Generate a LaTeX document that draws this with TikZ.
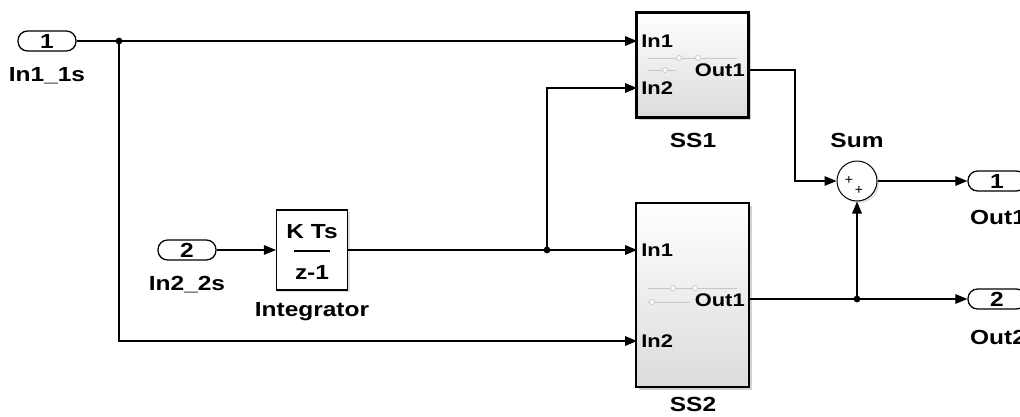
\documentclass[tikz,border=0pt]{standalone}
\usepackage{fontspec}
\setmainfont{Liberation Sans}
\newfontfamily\blkfont[FakeStretch=1.2]{Liberation Sans}
\usepackage{tikz}
\usetikzlibrary{arrows.meta}
\usetikzlibrary{shadows}
\usetikzlibrary{positioning}

\begin{document}
\begin{tikzpicture}[x=0.025cm, y=-0.025cm, >={Triangle[length=0.3cm, width=0.24cm]},
  wire/.style={line width=0.9pt},
  port/.style={draw, line width=0.9pt, fill=white, rounded corners=0.24cm,
    minimum width=1.45cm, minimum height=0.5cm, inner sep=0pt,
    font=\blkfont\bfseries\fontsize{14.5}{16}\selectfont},
  lbl/.style={inner sep=0pt, font=\blkfont\bfseries\fontsize{14.5}{16}\selectfont},
  plbl/.style={inner sep=0pt, font=\blkfont\bfseries\fontsize{13}{14}\selectfont},
  subsys/.style={draw, line width=2pt, top color=white, bottom color=black!14,
    drop shadow={shadow xshift=0.07cm, shadow yshift=-0.07cm, fill=black!35}},
  intblk/.style={draw, line width=0.8pt, fill=white, minimum width=1.775cm,
    minimum height=2cm, drop shadow={shadow xshift=0.05cm, shadow yshift=-0.05cm, fill=black!25}},
  sumblk/.style={draw, circle, line width=0.7pt, fill=white, minimum size=1cm,
    drop shadow={shadow xshift=0.05cm, shadow yshift=-0.05cm, fill=black!25}},
  dot/.style={circle, fill, inner sep=0pt, minimum size=0.17cm},
  icon/.style={black!22, line width=0.5pt}
]
  \useasboundingbox (0,0) rectangle (1020,416);

  % ===== Inports =====
  \node[port] (in1) at (47,41) {1};
  \node[lbl] (in1lbl) at (47,76) {In1\_1s};
  \node[port] (in2) at (187,250) {2};
  \node[lbl] (in2lbl) at (187,285) {In2\_2s};

  % ===== Integrator =====
  \node[intblk] (integ) at (312,250) {};
  \node[lbl] (num) at (312,232) {K Ts};
  \node[lbl] (den) at (312,272) {z-1};
  \draw[line width=0.8pt] (294,251) -- (330,251);
  \node[lbl] (integlbl) at (312,312) {Integrator};

  % ===== Subsystems =====
  \node[subsys, minimum width=2.8cm, minimum height=2.625cm] (ss1) at (692.5,65) {};
  \node[lbl] (ss1lbl) at (693,140) {SS1};
  \node[subsys, minimum width=2.825cm, minimum height=4.6cm] (ss2) at (692.5,295) {};
  \node[lbl] (ss2lbl) at (693,404) {SS2};

  % faint icons
  \draw[icon] (648,58) -- (737,58);
  \draw[icon, fill=white] (679,58) circle (2.5) (698,58) circle (2.5);
  \draw[icon] (648,70) -- (676,70);
  \draw[icon, fill=white] (665,70) circle (2.5);
  \draw[icon] (648,288) -- (737,288);
  \draw[icon, fill=white] (673,288) circle (2.5) (695,288) circle (2.5);
  \draw[icon] (648,302) -- (690,302);
  \draw[icon, fill=white] (652,302) circle (2.5);

  \node[plbl, anchor=west] (ss1i1) at (641,41) {In1};
  \node[plbl, anchor=west] (ss1i2) at (641,88) {In2};
  \node[plbl, anchor=east] (ss1o1) at (745,70) {Out1};
  \node[plbl, anchor=west] (ss2i1) at (641,250) {In1};
  \node[plbl, anchor=west] (ss2i2) at (641,341) {In2};
  \node[plbl, anchor=east] (ss2o1) at (745,300) {Out1};

  \coordinate (ss1in1) at (637,41);
  \coordinate (ss1in2) at (637,88);
  \coordinate (ss1out) at (748,70);
  \coordinate (ss2in1) at (637,250);
  \coordinate (ss2in2) at (637,341);
  \coordinate (ss2out) at (749,299);

  % ===== Sum and outports =====
  \node[sumblk] (sum) at (857,181) {};
  \node[inner sep=0pt, font=\fontsize{10}{10}\selectfont] (plus1) at (849,180) {+};
  \node[inner sep=0pt, font=\fontsize{10}{10}\selectfont] (plus2) at (859,190) {+};
  \node[lbl] (sumlbl) at (857,140) {Sum};
  \node[port] (out1) at (997,181) {1};
  \node[lbl] (out1lbl) at (998,217) {Out1};
  \node[port] (out2) at (997,299) {2};
  \node[lbl] (out2lbl) at (998,337) {Out2};

  % ===== Signal lines =====
  \node[dot] (j1) at (119,41) {};
  \node[dot] (j2) at (547,250) {};
  \node[dot] (j3) at (857,299) {};
  \coordinate (bend) at (795,70);

  \draw[wire, ->] (in1.east) -- (ss1in1);
  \draw[wire, ->] (j1.center) |- (ss2in2);
  \draw[wire, ->] (in2.east) -- (integ.west);
  \draw[wire, ->] (integ.east) -- (ss2in1);
  \draw[wire, ->] (j2.center) |- (ss1in2);
  \draw[wire, ->] (ss1out) -- (bend) |- (sum.west);
  \draw[wire, ->] (sum.east) -- (out1.west);
  \draw[wire, ->] (ss2out) -- (out2.west);
  \draw[wire, ->] (j3.center) -- (sum.south);
\end{tikzpicture}
\end{document}
